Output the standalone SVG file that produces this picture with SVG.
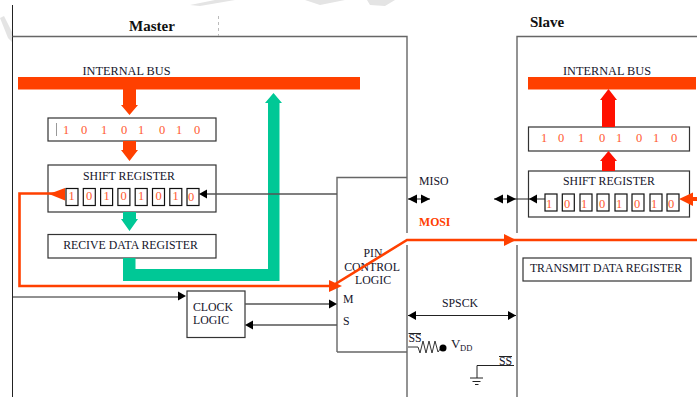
<svg xmlns="http://www.w3.org/2000/svg" width="697" height="397" viewBox="0 0 697 397">
<defs>
<style>
text{font-family:"Liberation Serif","Times New Roman",serif;fill:#14142a}
.t{font-size:11.800px}
.i{font-size:12.300px}
.c{text-anchor:middle}
.h{font-size:15px;font-weight:bold;fill:#111}
.b{font-size:12.500px;fill:#ff5a30;text-anchor:middle}
.box{fill:#fff;stroke:#333;stroke-width:1.200}
.cell{fill:#fff;stroke:#111;stroke-width:1.200}
.edge{fill:none;stroke:#666;stroke-width:1.400}
.thin{fill:none;stroke:#222;stroke-width:1}
.wire{fill:none;stroke:#555;stroke-width:1.300}
.or{fill:#ff4000}
.gr{fill:#00c896}
.rd{fill:#ff1000}
.orl{fill:none;stroke:#ff4000;stroke-width:2.600}
.k{fill:#000}
.wm{fill:#e4e4e4}
</style>
</defs>
<g id="watermark">
<polygon class="wm" points="0,18 4,16 12,32 12,42 8,38"/>
<polygon class="wm" points="190,5 215,0 235,0 200,6"/>
<polygon class="wm" points="305,0 345,0 320,5"/>
<polygon class="wm" points="367,0 395,0 385,6 370,5"/>
</g>
<g id="frames">
<path class="thin" d="M12.500 5V397"/>
<path class="edge" d="M12.500 36.500H407V233M407 245V397"/>
<path class="edge" d="M517 233V36.500H697M517 245V397"/>
<path d="M218.500 16V36" fill="none" stroke="#bbb" stroke-width="1" stroke-dasharray="3 3"/>
<text class="h" x="129" y="31">Master</text>
<text class="h" x="530" y="27">Slave</text>
</g>
<g id="master-bus">
<rect class="or" x="18" y="77" width="342" height="12.500"/>
<text class="i c" x="126.500" y="75">INTERNAL BUS</text>
</g>
<g id="master-data-register">
<rect class="box" x="48" y="118" width="168" height="23" stroke-width="1.600"/>
<path d="M56.500 123V136" stroke="#999" fill="none"/>
<text class="b" x="66" y="134">1</text><text class="b" x="84" y="134">0</text><text class="b" x="104" y="134">1</text><text class="b" x="124" y="134">0</text><text class="b" x="141" y="134">1</text><text class="b" x="162" y="134">0</text><text class="b" x="179" y="134">1</text><text class="b" x="197" y="134">0</text>
</g>
<g id="master-shift-register">
<rect class="box" x="48" y="165" width="168" height="47"/>
<text class="t c" x="129" y="180">SHIFT REGISTER</text>
<rect class="cell" x="66" y="188.500" width="12" height="17"/><rect class="cell" x="83.300" y="188.500" width="12" height="17"/><rect class="cell" x="100.600" y="188.500" width="12" height="17"/><rect class="cell" x="117.900" y="188.500" width="12" height="17"/><rect class="cell" x="135.200" y="188.500" width="12" height="17"/><rect class="cell" x="152.500" y="188.500" width="12" height="17"/><rect class="cell" x="169.800" y="188.500" width="12" height="17"/><rect class="cell" x="187" y="188.500" width="12" height="17"/>
<text class="b" x="71.500" y="200">1</text><text class="b" x="89" y="200">0</text><text class="b" x="106.500" y="200">1</text><text class="b" x="123.500" y="200">0</text><text class="b" x="141" y="200">1</text><text class="b" x="158.500" y="200">0</text><text class="b" x="175.500" y="200">1</text><text class="b" x="191" y="201">0</text>
</g>
<g id="receive-register">
<rect class="box" x="48" y="234.500" width="168" height="23.500"/>
<text class="t c" x="130.500" y="249">RECIVE DATA REGISTER</text>
</g>
<g id="clock-logic">
<rect class="box" x="187" y="291" width="58" height="46.500"/>
<text class="t" x="193" y="311">CLOCK</text>
<text class="t" x="193" y="324">LOGIC</text>
</g>
<g id="pin-control-logic">
<path class="edge" d="M337 352V177.500H407"/>
<path class="edge" d="M337 352H407"/>
<text class="t c" x="373" y="257">PIN</text>
<text class="t c" x="372" y="271">CONTROL</text>
<text class="t c" x="373" y="284">LOGIC</text>
<text class="t" x="343" y="303">M</text>
<text class="t" x="343" y="325">S</text>
</g>
<g id="signal-labels">
<text class="t" x="419" y="185">MISO</text>
<text class="t" x="419" y="226" style="fill:#ff4000;font-weight:bold">MOSI</text>
<text class="t" x="442" y="307">SPSCK</text>
</g>
<g id="ss-pullup">
<path d="M408 347H418L420 353L423 341L426 353L429 341L432 353L435 341L438 352L441 348" fill="none" stroke="#333" stroke-width="1"/>
<circle class="k" cx="443" cy="348" r="3.500"/>
<path class="thin" d="M408.500 333.500H421"/>
<text class="t" x="408.500" y="342">SS</text>
<text x="451" y="348" style="font-size:13px">V</text>
<text x="460" y="351" style="font-size:8.500px">DD</text>
</g>
<g id="ss-ground">
<path class="thin" d="M514 365.500H477V378M470 378H483M472.500 381.500H480.500M475 384.500H478.500"/>
<path class="thin" d="M499 356.500H512"/>
<text class="t" x="499" y="365">SS</text>
</g>
<g id="slave-bus">
<rect class="or" x="528" y="77" width="168" height="12.500"/>
<text class="i c" x="607" y="75">INTERNAL BUS</text>
</g>
<g id="slave-data-register">
<rect class="box" x="528.500" y="127" width="161" height="24"/>
<text class="b" x="544" y="142">1</text><text class="b" x="561" y="142">0</text><text class="b" x="581" y="142">1</text><text class="b" x="602" y="142">0</text><text class="b" x="619" y="142">1</text><text class="b" x="639" y="142">0</text><text class="b" x="656" y="142">1</text><text class="b" x="674" y="142">0</text>
</g>
<g id="slave-shift-register">
<rect class="box" x="528.500" y="171" width="161" height="46"/>
<text class="t c" x="609" y="185">SHIFT REGISTER</text>
<rect class="cell" x="545" y="194" width="12" height="17"/><rect class="cell" x="562.300" y="194" width="12" height="17"/><rect class="cell" x="580" y="194" width="12" height="17"/><rect class="cell" x="597" y="194" width="12" height="17"/><rect class="cell" x="615" y="194" width="12" height="17"/><rect class="cell" x="632" y="194" width="12" height="17"/><rect class="cell" x="650" y="194" width="12" height="17"/><rect class="cell" x="667" y="194" width="12" height="17"/>
<text class="b" x="549" y="208">1</text><text class="b" x="567" y="208">0</text><text class="b" x="584" y="208">1</text><text class="b" x="602" y="208">0</text><text class="b" x="619" y="208">1</text><text class="b" x="637" y="208">0</text><text class="b" x="654" y="208">1</text><text class="b" x="671" y="208">0</text>
</g>
<g id="transmit-register">
<rect class="box" x="523" y="258" width="168" height="23"/>
<text class="t c" x="606" y="272">TRANSMIT DATA REGISTER</text>
</g>
<g id="connectors">
<polygon class="or" points="123,89 136,89 136,105 138,105 129.500,115 121,105 123,105"/>
<polygon class="or" points="123,141 136,141 136,150 138,150 129.500,161 121,150 123,150"/>
<polygon class="gr" points="123,212 136,212 136,219 138,219 129.500,231 121,219 123,219"/>
<polygon class="gr" points="123,258 135.500,258 135.500,269 268,269 268,103 265,103 273.500,93 282,103 279.500,103 279.500,281 123,281"/>
<polygon class="rd" points="602,127 615,127 615,100 617,100 608.500,89 600,100 602,100"/>
<polygon class="rd" points="602,171 615,171 615,161 617,161 608.500,151 600,161 602,161"/>
<path class="wire" d="M207 194H337"/>
<polygon class="k" points="199,194 207,189.500 207,198.500"/>
<path class="thin" d="M12.500 297H179"/>
<polygon class="k" points="186,296 178,291.500 178,300.500"/>
<path class="wire" d="M245 304H330"/>
<polygon class="k" points="337,304 329,299.500 329,308.500"/>
<path class="wire" d="M252 325H337"/>
<polygon class="k" points="245,325 253,320.500 253,329.500"/>
<path class="orl" d="M55 193.500H19.500V286H332L407 240H697"/>
<polygon class="or" points="49,194 65,188 65,200.500"/>
<polygon class="or" points="342,286 329,280 329,292"/>
<polygon class="or" points="516,240 504,234 504,246"/>
<polygon class="or" points="679,199 693,192.500 693,197 697,197 697,201 693,201 693,206"/>
<path class="thin" d="M408 199H430M494 199H545"/>
<polygon class="k" points="408,199 417,194.500 417,203.500"/>
<polygon class="k" points="430,199 421,194.500 421,203.500"/>
<polygon class="k" points="494,199 503,194.500 503,203.500"/>
<polygon class="k" points="516,199 507,194.500 507,203.500"/>
<polygon class="k" points="529,199 537,194.500 537,203.500"/>
<path class="thin" d="M408 315.500H516"/>
<polygon class="k" points="408,315.500 416,311 416,320"/>
<polygon class="k" points="516,315.500 508,311 508,320"/>
</g>
</svg>
